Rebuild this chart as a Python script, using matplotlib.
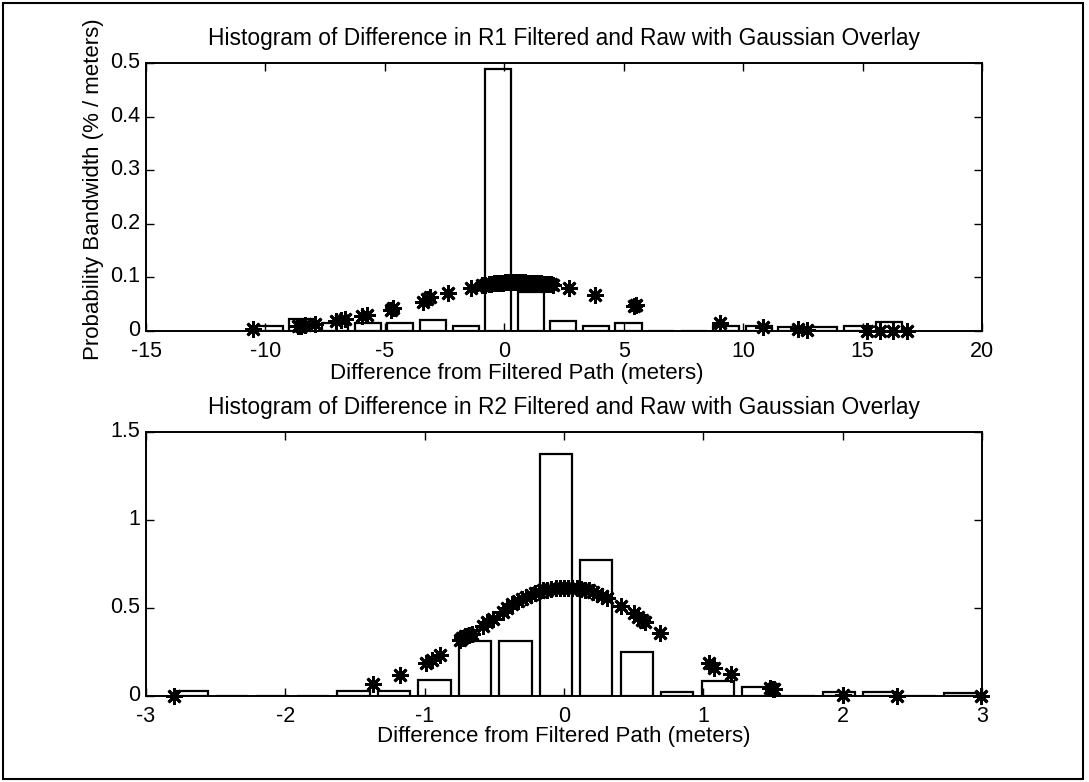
import numpy as np
import matplotlib
matplotlib.use('Agg')
import matplotlib.pyplot as plt
import matplotlib.transforms as mtransforms
from matplotlib.patches import Rectangle

plt.rcParams['font.family'] = ['Liberation Sans', 'DejaVu Sans']
plt.rcParams['axes.unicode_minus'] = False

# R1 histogram (bin centres, normalised heights)
r1_centers = [-9.81, -8.45, -7.08, -5.72, -4.35, -2.99, -1.62, -0.26, 1.11, 2.47,
              3.84, 5.20, 6.57, 7.93, 9.30, 10.66, 12.02, 13.39, 14.75, 16.12]
r1_heights = [0.010, 0.022, 0.014, 0.015, 0.015, 0.020, 0.010, 0.489, 0.073, 0.019,
              0.010, 0.014, 0.0, 0.0, 0.010, 0.009, 0.008, 0.008, 0.009, 0.017]
r1_width = 1.09

# R1 gaussian overlay points
r1_gx = [-10.51, -8.65, -8.50, -8.35, -7.93, -7.05, -6.85, -6.65, -5.95, -5.75,
         -4.75, -4.65, -3.40, -3.25, -3.10, -2.35, -1.40, -0.95, -0.80,
         -0.65, -0.55, -0.45, -0.35, -0.25, -0.15, -0.05, 0.05, 0.15, 0.25,
         0.35, 0.45, 0.55, 0.65, 0.75, 0.85, 0.95, 1.05, 1.15, 1.25,
         1.35, 1.45, 1.55, 1.65, 1.75, 1.85, 1.95, 2.05,
         2.72, 3.80, 5.45, 5.50, 9.03, 10.84, 12.31, 12.66,
         15.17, 15.73, 16.29, 16.85]
r1_gy = [0.004, 0.009, 0.010, 0.011, 0.013, 0.019, 0.021, 0.023, 0.028, 0.030,
         0.040, 0.043, 0.055, 0.060, 0.064, 0.071, 0.080, 0.085, 0.086,
         0.088, 0.088, 0.089, 0.089, 0.090, 0.090, 0.090, 0.091, 0.091, 0.091,
         0.091, 0.091, 0.091, 0.091, 0.091, 0.091, 0.090, 0.090, 0.090, 0.090,
         0.089, 0.089, 0.089, 0.088, 0.088, 0.087, 0.087, 0.086,
         0.081, 0.067, 0.046, 0.049, 0.015, 0.008, 0.004, 0.002,
         0.0005, 0.0003, 0.0002, 0.0001]

# R2 histogram
r2_centers = [-2.672, -2.382, -2.091, -1.801, -1.510, -1.220, -0.930, -0.639, -0.349, -0.058,
              0.232, 0.522, 0.813, 1.103, 1.394, 1.684, 1.974, 2.265, 2.555, 2.845]
r2_heights = [0.030, 0.0, 0.0, 0.0, 0.030, 0.030, 0.090, 0.310, 0.310, 1.375,
              0.770, 0.250, 0.025, 0.085, 0.050, 0.0, 0.020, 0.020, 0.0, 0.017]
r2_width = 0.232

# R2 gaussian overlay points
r2_gx = [-2.80, -1.37, -1.18, -0.99, -0.95, -0.89, -0.75, -0.73, -0.71, -0.68, -0.66,
         -0.58, -0.55, -0.51, -0.44, -0.41, -0.37, -0.33, -0.30, -0.27, -0.24,
         -0.21, -0.18, -0.15, -0.12, -0.09, -0.06, -0.03, 0.00, 0.03, 0.06,
         0.09, 0.12, 0.15, 0.18, 0.21, 0.24, 0.27, 0.31, 0.41, 0.50, 0.53,
         0.56, 0.58, 0.69, 1.04, 1.08, 1.20, 1.48, 1.50, 1.51, 2.00, 2.39, 2.99]
r2_gy = [0.000, 0.070, 0.120, 0.190, 0.205, 0.235, 0.320, 0.330, 0.340, 0.345, 0.350,
         0.400, 0.420, 0.440, 0.480, 0.500, 0.520, 0.540, 0.550, 0.565, 0.575,
         0.585, 0.590, 0.600, 0.605, 0.610, 0.612, 0.614, 0.615, 0.615, 0.615,
         0.613, 0.610, 0.605, 0.600, 0.590, 0.580, 0.570, 0.555, 0.510, 0.470, 0.450,
         0.430, 0.420, 0.360, 0.185, 0.160, 0.125, 0.045, 0.040, 0.038, 0.006, 0.001, 0.000]

W, H = 1089, 782
fig = plt.figure(figsize=(W / 100, H / 100), dpi=100)
fig.patch.set_facecolor('white')

# outer border
fig.patches.append(Rectangle((3 / W, 3 / H), 1080 / W, 776 / H, transform=fig.transFigure,
                             fill=False, edgecolor='black', linewidth=1.5))

star = (8, 2, 0)
# nudge y tick labels up a little so the corner labels don't collide
lift = mtransforms.ScaledTranslation(0, 3 / 100, fig.dpi_scale_trans)


def style_axes(ax):
    for s in ax.spines.values():
        s.set_linewidth(1.4)
    ax.tick_params(direction='in', length=6, width=1.0, top=True, right=True,
                   labelsize=15.5)
    ax.tick_params(axis='x', pad=7)
    ax.tick_params(axis='y', pad=4)
    for lbl in ax.get_yticklabels():
        lbl.set_transform(lbl.get_transform() + lift)


# top panel
ax1 = fig.add_axes([146 / W, 1 - 331 / H, 836 / W, 268 / H])
ax1.bar(r1_centers, r1_heights, width=r1_width, facecolor='white',
        edgecolor='black', linewidth=1.6)
ax1.plot(r1_gx, r1_gy, linestyle='none', marker=star, markersize=12,
         markeredgewidth=2.0, color='black', clip_on=False)
ax1.set_xlim(-15, 20)
ax1.set_ylim(0, 0.5)
ax1.set_xticks([-15, -10, -5, 0, 5, 10, 15, 20])
ax1.set_yticks([0, 0.1, 0.2, 0.3, 0.4, 0.5])
ax1.set_yticklabels(['0', '0.1', '0.2', '0.3', '0.4', '0.5'])
style_axes(ax1)
ax1.set_title('Histogram of Difference in R1 Filtered and Raw with Gaussian Overlay',
              fontsize=16.4, pad=13)
ax1.set_xlabel('Difference from Filtered Path (meters)', fontsize=16)
ax1.xaxis.set_label_coords(0.444, -0.12)
ax1.set_ylabel('Probability Bandwidth (% / meters)', fontsize=16)
ax1.yaxis.set_label_coords(-0.050, 0.53)

# bottom panel
ax2 = fig.add_axes([146 / W, 1 - 696 / H, 836 / W, 264 / H])
ax2.bar(r2_centers, r2_heights, width=r2_width, facecolor='white',
        edgecolor='black', linewidth=1.6)
ax2.plot(r2_gx, r2_gy, linestyle='none', marker=star, markersize=12,
         markeredgewidth=2.0, color='black', clip_on=False)
ax2.set_xlim(-3, 3)
ax2.set_ylim(0, 1.5)
ax2.set_xticks([-3, -2, -1, 0, 1, 2, 3])
ax2.set_yticks([0, 0.5, 1, 1.5])
ax2.set_yticklabels(['0', '0.5', '1', '1.5'])
style_axes(ax2)
ax2.set_title('Histogram of Difference in R2 Filtered and Raw with Gaussian Overlay',
              fontsize=16.4, pad=13)
ax2.set_xlabel('Difference from Filtered Path (meters)', fontsize=16)
ax2.xaxis.set_label_coords(0.5, -0.115)

fig.savefig('out.png', dpi=100, facecolor='white')
